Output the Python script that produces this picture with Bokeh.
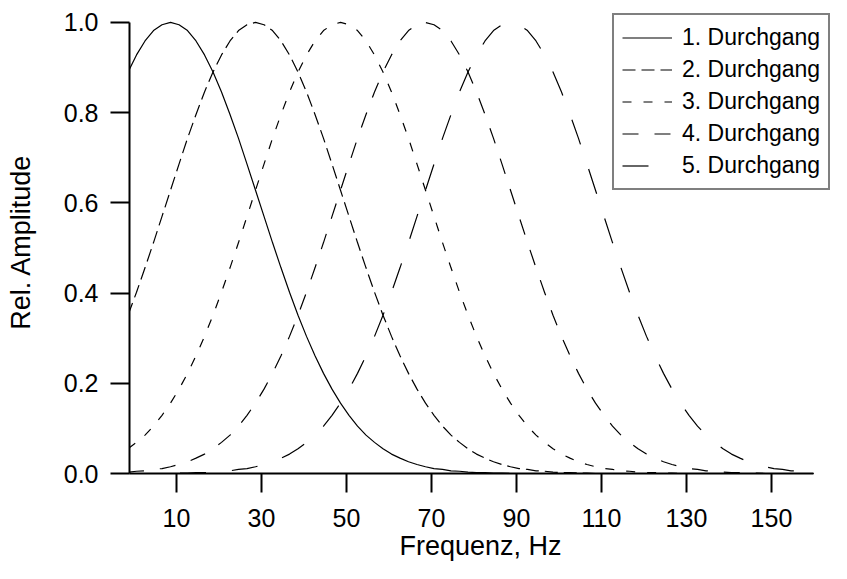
from bokeh.plotting import figure
from bokeh.models import FixedTicker, Legend, LegendItem, Range1d, PrintfTickFormatter
from bokeh.embed import file_html
from bokeh.resources import INLINE

# Frequency grid (Hz)
freq = [-1.4, 0.6, 2.6, 4.6, 6.6, 8.6, 10.6, 12.6, 14.6, 16.6,
        18.6, 20.6, 22.6, 24.6, 26.6, 28.6, 30.6, 32.6, 34.6, 36.6,
        38.6, 40.6, 42.6, 44.6, 46.6, 48.6, 50.6, 52.6, 54.6, 56.6,
        58.6, 60.6, 62.6, 64.6, 66.6, 68.6, 70.6, 72.6, 74.6, 76.6,
        78.6, 80.6, 82.6, 84.6, 86.6, 88.6, 90.6, 92.6, 94.6, 96.6,
        98.6, 100.6, 102.6, 104.6, 106.6, 108.6, 110.6, 112.6, 114.6, 116.6,
        118.6, 120.6, 122.6, 124.6, 126.6, 128.6, 130.6, 132.6, 134.6, 136.6,
        138.6, 140.6, 142.6, 144.6, 146.6, 148.6, 150.6, 152.6, 154.6, 156.6,
        158.6, 160.0]

amp1 = [0.890, 0.928, 0.959, 0.982, 0.995, 1.000, 0.995, 0.982, 0.959, 0.928,
        0.890, 0.846, 0.796, 0.743, 0.686, 0.628, 0.570, 0.512, 0.456, 0.402,
        0.351, 0.304, 0.261, 0.222, 0.187, 0.156, 0.129, 0.105, 0.085, 0.069,
        0.055, 0.043, 0.034, 0.026, 0.020, 0.015, 0.011, 0.009, 0.006, 0.005,
        0.003, 0.002, 0.002, 0.001, 0.001, 0.0, 0.0, 0.0, 0.0, 0.0,
        0.0, 0.0, 0.0, 0.0, 0.0, 0.0, 0.0, 0.0, 0.0, 0.0,
        0.0, 0.0, 0.0, 0.0, 0.0, 0.0, 0.0, 0.0, 0.0, 0.0,
        0.0, 0.0, 0.0, 0.0, 0.0, 0.0, 0.0, 0.0, 0.0, 0.0,
        0.0, 0.0]

amp2 = [0.351, 0.402, 0.456, 0.512, 0.570, 0.628, 0.686, 0.743, 0.796, 0.846,
        0.890, 0.928, 0.959, 0.982, 0.995, 1.000, 0.995, 0.982, 0.959, 0.928,
        0.890, 0.846, 0.796, 0.743, 0.686, 0.628, 0.570, 0.512, 0.456, 0.402,
        0.351, 0.304, 0.261, 0.222, 0.187, 0.156, 0.129, 0.105, 0.085, 0.069,
        0.055, 0.043, 0.034, 0.026, 0.020, 0.015, 0.011, 0.009, 0.006, 0.005,
        0.003, 0.002, 0.002, 0.001, 0.001, 0.0, 0.0, 0.0, 0.0, 0.0,
        0.0, 0.0, 0.0, 0.0, 0.0, 0.0, 0.0, 0.0, 0.0, 0.0,
        0.0, 0.0, 0.0, 0.0, 0.0, 0.0, 0.0, 0.0, 0.0, 0.0,
        0.0, 0.0]

amp3 = [0.055, 0.069, 0.085, 0.105, 0.129, 0.156, 0.187, 0.222, 0.261, 0.304,
        0.351, 0.402, 0.456, 0.512, 0.570, 0.628, 0.686, 0.743, 0.796, 0.846,
        0.890, 0.928, 0.959, 0.982, 0.995, 1.000, 0.995, 0.982, 0.959, 0.928,
        0.890, 0.846, 0.796, 0.743, 0.686, 0.628, 0.570, 0.512, 0.456, 0.402,
        0.351, 0.304, 0.261, 0.222, 0.187, 0.156, 0.129, 0.105, 0.085, 0.069,
        0.055, 0.043, 0.034, 0.026, 0.020, 0.015, 0.011, 0.009, 0.006, 0.005,
        0.003, 0.002, 0.002, 0.001, 0.001, 0.0, 0.0, 0.0, 0.0, 0.0,
        0.0, 0.0, 0.0, 0.0, 0.0, 0.0, 0.0, 0.0, 0.0, 0.0,
        0.0, 0.0]

amp4 = [0.003, 0.005, 0.006, 0.009, 0.011, 0.015, 0.020, 0.026, 0.034, 0.043,
        0.055, 0.069, 0.085, 0.105, 0.129, 0.156, 0.187, 0.222, 0.261, 0.304,
        0.351, 0.402, 0.456, 0.512, 0.570, 0.628, 0.686, 0.743, 0.796, 0.846,
        0.890, 0.928, 0.959, 0.982, 0.995, 1.000, 0.995, 0.982, 0.959, 0.928,
        0.890, 0.846, 0.796, 0.743, 0.686, 0.628, 0.570, 0.512, 0.456, 0.402,
        0.351, 0.304, 0.261, 0.222, 0.187, 0.156, 0.129, 0.105, 0.085, 0.069,
        0.055, 0.043, 0.034, 0.026, 0.020, 0.015, 0.011, 0.009, 0.006, 0.005,
        0.003, 0.002, 0.002, 0.001, 0.001, 0.0, 0.0, 0.0, 0.0, 0.0,
        0.0, 0.0]

amp5 = [0.0, 0.0, 0.0, 0.0, 0.0, 0.0, 0.001, 0.001, 0.002, 0.002,
        0.003, 0.005, 0.006, 0.009, 0.011, 0.015, 0.020, 0.026, 0.034, 0.043,
        0.055, 0.069, 0.085, 0.105, 0.129, 0.156, 0.187, 0.222, 0.261, 0.304,
        0.351, 0.402, 0.456, 0.512, 0.570, 0.628, 0.686, 0.743, 0.796, 0.846,
        0.890, 0.928, 0.959, 0.982, 0.995, 1.000, 0.995, 0.982, 0.959, 0.928,
        0.890, 0.846, 0.796, 0.743, 0.686, 0.628, 0.570, 0.512, 0.456, 0.402,
        0.351, 0.304, 0.261, 0.222, 0.187, 0.156, 0.129, 0.105, 0.085, 0.069,
        0.055, 0.043, 0.034, 0.026, 0.020, 0.015, 0.011, 0.009, 0.006, 0.005,
        0.003, 0.002]

series_labels = ["1. Durchgang", "2. Durchgang", "3. Durchgang", "4. Durchgang", "5. Durchgang"]
x_ticks = [10, 30, 50, 70, 90, 110, 130, 150]
y_ticks = [0.0, 0.2, 0.4, 0.6, 0.8, 1.0]
x_title = "Frequenz, Hz"
y_title = "Rel. Amplitude"

FONT = "Liberation Sans"

p = figure(width=831, height=563, x_range=Range1d(-1.05, 164.13), y_range=Range1d(0, 1.0265),
           output_backend="svg", toolbar_location=None,
           min_border_left=129, min_border_top=10, min_border_right=0, min_border_bottom=89)
p.grid.visible = False
p.outline_line_color = None
p.background_fill_color = "white"
p.border_fill_color = "white"

dashes = ["solid", "13 6", "9 12", "16 16", "26 26"]
series = [amp1, amp2, amp3, amp4, amp5]
items = []
for amp, dash, lab in zip(series, dashes, series_labels):
    r = p.line(freq, amp, line_color="black", line_width=1.2, line_dash=dash)
    items.append(LegendItem(label=lab, renderers=[r]))

for ax in (p.xaxis[0], p.yaxis[0]):
    ax.axis_line_width = 2
    ax.axis_line_color = "black"
    ax.major_tick_line_width = 2
    ax.major_tick_line_color = "black"
    ax.major_tick_in = 0
    ax.major_tick_out = 19
    ax.minor_tick_line_color = None
    ax.major_label_text_font = FONT
    ax.major_label_text_font_size = "25px"
    ax.major_label_text_color = "black"
    ax.axis_label_text_font = FONT
    ax.axis_label_text_font_size = "27px"
    ax.axis_label_text_font_style = "normal"
    ax.axis_label_text_color = "black"

p.xaxis.bounds = (-1.05, 160)
p.yaxis.bounds = (0, 1)
p.xaxis.ticker = FixedTicker(ticks=x_ticks)
p.yaxis.ticker = FixedTicker(ticks=y_ticks)
p.yaxis.formatter = PrintfTickFormatter(format="%.1f")
p.xaxis.axis_label = x_title
p.yaxis.axis_label = y_title
p.xaxis.major_label_standoff = 16
p.xaxis.axis_label_standoff = 1
p.yaxis.major_label_standoff = 12
p.yaxis.axis_label_standoff = 25

legend = Legend(items=items, location=(483, 283))
legend.label_text_font = FONT
legend.label_text_font_size = "23px"
legend.label_text_color = "black"
legend.glyph_width = 50
legend.glyph_height = 29
legend.label_height = 29
legend.spacing = 3
legend.padding = 8
legend.margin = 0
legend.label_standoff = 10
legend.border_line_color = "black"
legend.border_line_width = 2
legend.background_fill_color = "white"
legend.background_fill_alpha = 1.0
p.add_layout(legend)

open("out.html", "w").write(file_html(p, INLINE))
